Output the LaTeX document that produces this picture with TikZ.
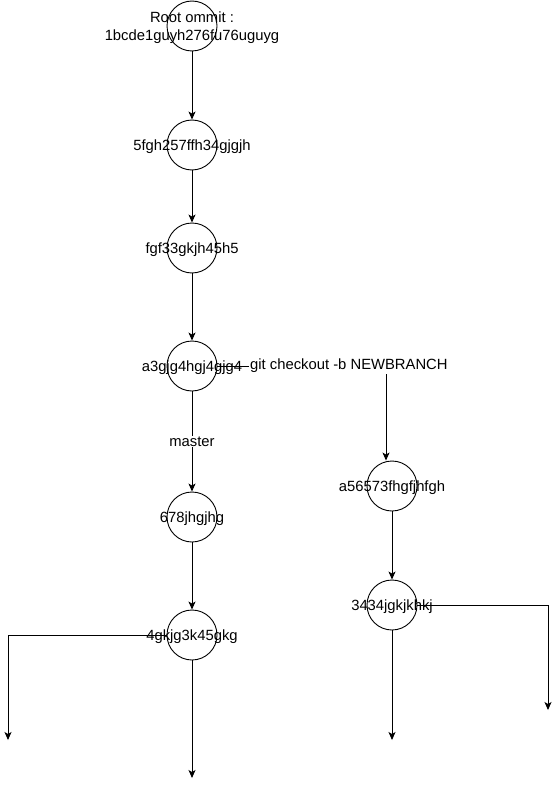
\documentclass[tikz,border=0pt]{standalone}
\usepackage{fontspec}
\setmainfont{Liberation Sans}
\usetikzlibrary{positioning,arrows.meta}

\begin{document}
\begin{tikzpicture}[x=1pt, y=-1pt,
  commit/.style={draw, circle, minimum size=50pt, inner sep=0pt, line width=0.9pt},
  hash/.style={font=\fontsize{14.8}{18}\selectfont, inner sep=0pt, align=center, yshift=-1.5pt},
  flow/.style={-{Stealth[length=8pt, width=7pt, inset=2pt]}, line width=0.9pt},
  tag/.style={font=\fontsize{14.8}{18}\selectfont, fill=white, inner sep=1pt}]
\useasboundingbox (0,0) rectangle (556,789);
\node[commit, label={[hash]center:Root ommit :\\1bcde1guyh276fu76uguyg}] (root) at (192,26) {};
\node[commit, label={[hash]center:5fgh257ffh34gjgjh}] (c1) at (192,145) {};
\node[commit, label={[hash]center:fgf33gkjh45h5}] (c2) at (192,248) {};
\node[commit, label={[hash]center:a3gjg4hgj4gjg4}] (c3) at (192,366) {};
\node[commit, label={[hash]center:678jhgjhg}] (c4) at (192,517) {};
\node[commit, label={[hash]center:4gkjg3k45gkg}] (c5) at (192,635) {};
\node[commit, label={[hash]center:a56573fhgfjhfgh}] (b1) at (392,486) {};
\node[commit, label={[hash]center:3434jgkjkhkj}] (b2) at (392,605) {};
\coordinate (endmain) at (192,778);
\coordinate (endleft) at (8,740);
\coordinate (endbranch) at (392,740);
\coordinate (endright) at (548,710);
\foreach \a/\b in {root/c1, c1/c2, c2/c3, c4/c5, b1/b2}{
  \draw[flow] (\a) -- (\b);
}
\draw[flow] (c3) -- node[tag] {master} (c4);
\draw[flow] (c3.east) -| node[tag, pos=0.39] {git checkout -b NEWBRANCH} ([xshift=-6pt]b1.north);
\draw[flow] (c5.south) -- (endmain);
\draw[flow] (c5.west) -| (endleft);
\draw[flow] (b2.south) -- (endbranch);
\draw[flow] (b2.east) -| (endright);
\end{tikzpicture}
\end{document}
